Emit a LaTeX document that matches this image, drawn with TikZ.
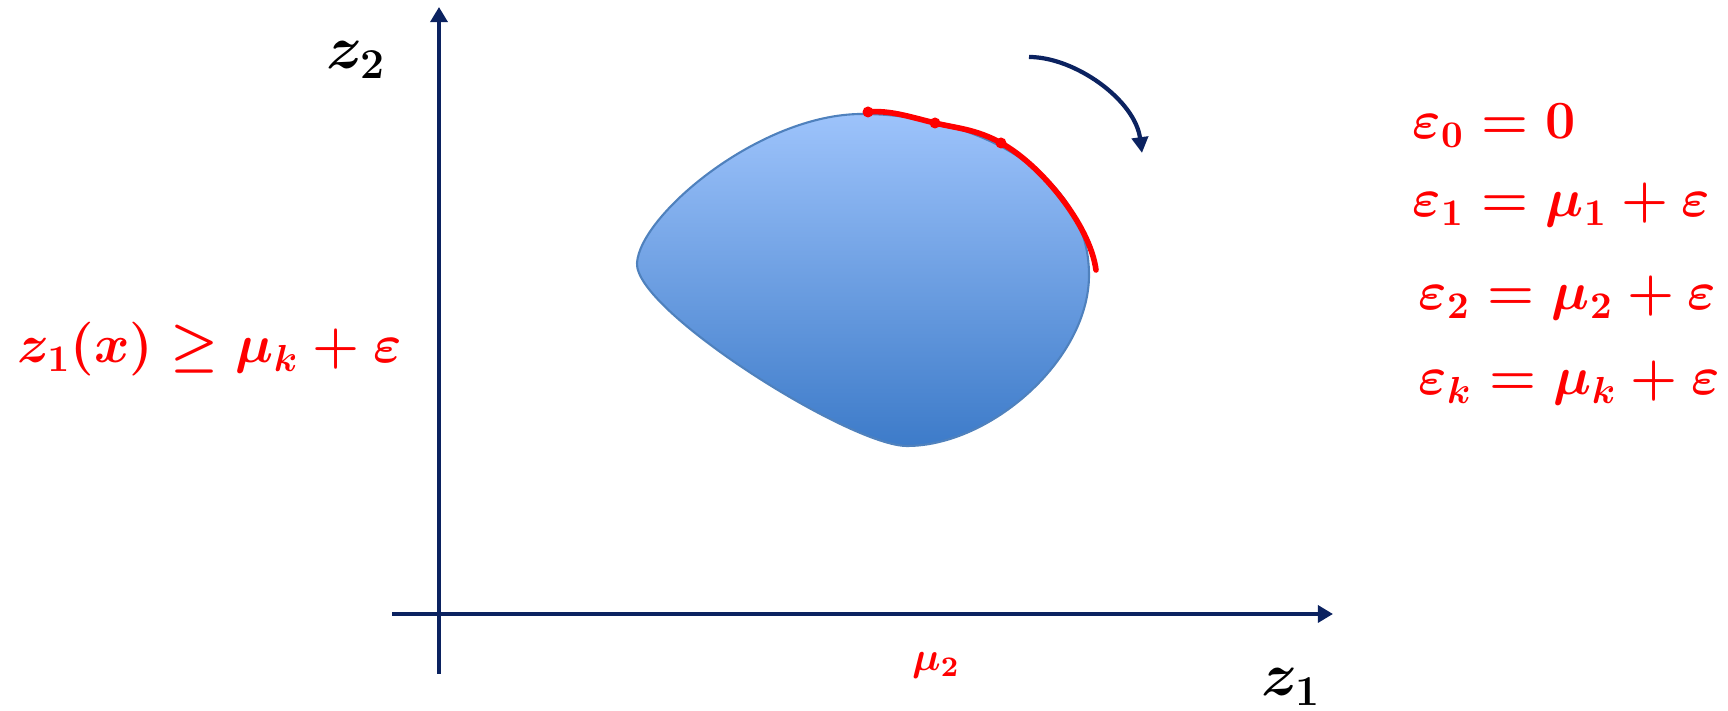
\RequirePackage{fix-cm}
\documentclass[tikz,border=0pt]{standalone}
\usepackage{amsmath,amssymb}
\usepackage{tikz}
\usetikzlibrary{arrows.meta,positioning}

\definecolor{axisblue}{HTML}{0B2260}
\definecolor{blobtop}{HTML}{9DC3FB}
\definecolor{blobbot}{HTML}{3D7BC9}
\definecolor{blobedge}{HTML}{4F81BD}

\begin{document}
\begin{tikzpicture}[
		axis/.style={draw=axisblue, line width=1.1pt, -{Triangle[length=4.3pt,width=4.8pt]}},
		redlbl/.style={text=red, font=\fontsize{15.3}{18}\selectfont\boldmath, inner sep=0pt},
		blacklbl/.style={text=black, font=\fontsize{17.3}{21}\selectfont\boldmath, inner sep=0pt}
	]
	\useasboundingbox (0,0) rectangle (17.28,7.11);
	% axes
	\coordinate (ybot) at (4.39,0.37);
	\coordinate (ytop) at (4.39,7.04);
	\coordinate (xleft) at (3.92,0.97);
	\coordinate (xright) at (13.33,0.97);
	\draw[axis] (ybot) -- (ytop);
	\draw[axis] (xleft) -- (xright);
	\node[blacklbl] (ztwo) at (3.56,6.51) {$z_2$};
	\node[blacklbl] (zone) at (12.91,0.24) {$z_1$};
	\node[redlbl, font=\fontsize{11.5}{13}\selectfont\boldmath] (mutwo) at (9.36,0.46) {$\mu_2$};
	% feasible region
	\shade[top color=blobtop, bottom color=blobbot, draw=blobedge, line width=0.6pt]
		(6.37,4.48) .. controls (6.40,4.96) and (7.60,5.97) .. (8.62,5.97)
		.. controls (9.70,5.97) and (10.89,5.41) .. (10.89,4.36)
		.. controls (10.89,3.51) and (9.90,2.65) .. (9.07,2.65)
		.. controls (8.50,2.65) and (6.34,4.01) .. cycle;
	% front traced by the constraint
	\coordinate (pa) at (8.68,5.99);
	\coordinate (pb) at (9.35,5.88);
	\coordinate (pc) at (10.01,5.68);
	\coordinate (pend) at (10.96,4.41);
	\draw[red, line width=1.6pt, line cap=round]
		(pa) .. controls (8.90,6.01) and (9.10,5.94) .. (pb)
		.. controls (9.55,5.83) and (9.76,5.82) .. (pc)
		.. controls (10.41,5.46) and (10.90,4.86) .. (pend);
	\foreach \p in {pa, pb, pc}
		\fill[red] (\p) circle (0.055);
	% sweep direction
	\coordinate (sweepa) at (10.29,6.54);
	\coordinate (sweepb) at (11.42,5.58);
	\draw[draw=axisblue, line width=1.2pt, -{Triangle[length=4.5pt,width=4.6pt]}]
		(sweepa) .. controls (10.75,6.54) and (11.35,6.11) .. (sweepb);
	% labels
	\node[redlbl, anchor=base west] (cons) at (0.17,3.48) {$z_1(x) \geq \mu_k + \varepsilon$};
	\node[redlbl, anchor=base west] (epszero) at (14.12,5.72) {$\varepsilon_0 = 0$};
	\node[redlbl, anchor=base west] (epsone) at (14.12,4.94) {$\varepsilon_1 = \mu_1 + \varepsilon$};
	\node[redlbl, anchor=base west] (epstwo) at (14.18,4.01) {$\varepsilon_2 = \mu_2 + \varepsilon$};
	\node[redlbl, anchor=base west] (epsk) at (14.18,3.16) {$\varepsilon_k = \mu_k + \varepsilon$};
\end{tikzpicture}
\end{document}
